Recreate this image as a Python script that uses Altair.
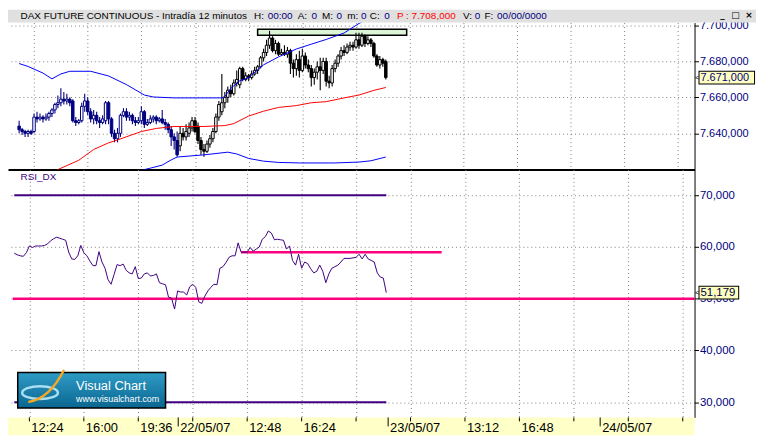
import altair as alt
import pandas as pd

# ---------------- data ----------------
opens = [7644, 7642, 7641, 7640, 7641, 7641, 7649, 7648, 7649, 7648, 7649, 7651, 7653, 7656, 7657, 7659,
         7658, 7659, 7658, 7647, 7646, 7647, 7655, 7658, 7652, 7648, 7650, 7647, 7646, 7647, 7657, 7648,
         7640, 7637, 7640, 7650, 7652, 7649, 7650, 7647, 7646, 7647, 7652, 7645, 7646, 7648, 7649, 7647,
         7648, 7646, 7645, 7642, 7638, 7636, 7633, 7640, 7638, 7640, 7643, 7647, 7644, 7636, 7631, 7630,
         7634, 7637, 7641, 7649, 7652, 7657, 7660, 7664, 7662, 7668, 7667, 7676, 7670, 7672, 7671, 7673,
         7675, 7677, 7682, 7685, 7689, 7693, 7686, 7690, 7684, 7685, 7684, 7686, 7679, 7676, 7681, 7675,
         7683, 7678, 7676, 7671, 7674, 7677, 7675, 7680, 7669, 7668, 7676, 7679, 7683, 7686, 7685, 7688,
         7689, 7688, 7692, 7689, 7694, 7690, 7692, 7690, 7683, 7678, 7681, 7680]
highs = [7647, 7643, 7642, 7642, 7642, 7651, 7652, 7651, 7650, 7651, 7652, 7654, 7657, 7661, 7665, 7663,
         7662, 7660, 7659, 7649, 7648, 7657, 7662, 7660, 7654, 7653, 7652, 7649, 7650, 7658, 7658, 7649,
         7642, 7643, 7651, 7654, 7654, 7652, 7651, 7649, 7649, 7655, 7653, 7648, 7650, 7650, 7650, 7649,
         7653, 7648, 7646, 7644, 7640, 7641, 7644, 7643, 7645, 7646, 7649, 7649, 7646, 7638, 7634, 7636,
         7639, 7643, 7651, 7658, 7673, 7663, 7666, 7667, 7670, 7675, 7677, 7677, 7674, 7673, 7675, 7677,
         7678, 7683, 7687, 7692, 7697, 7694, 7692, 7691, 7687, 7689, 7688, 7687, 7681, 7684, 7686, 7687,
         7685, 7681, 7678, 7676, 7680, 7682, 7682, 7682, 7672, 7678, 7681, 7684, 7688, 7689, 7690, 7691,
         7691, 7696, 7696, 7696, 7695, 7694, 7693, 7691, 7684, 7683, 7682, 7681]
lows = [7640, 7639, 7638, 7638, 7639, 7640, 7646, 7647, 7646, 7647, 7647, 7649, 7651, 7654, 7655, 7656,
        7656, 7655, 7646, 7644, 7645, 7646, 7652, 7650, 7646, 7645, 7645, 7643, 7645, 7645, 7645, 7638,
        7635, 7635, 7638, 7649, 7647, 7647, 7645, 7644, 7645, 7645, 7643, 7644, 7645, 7646, 7645, 7646,
        7645, 7642, 7640, 7633, 7631, 7627, 7630, 7636, 7636, 7638, 7641, 7640, 7634, 7628, 7627, 7629,
        7632, 7635, 7640, 7647, 7650, 7654, 7657, 7660, 7661, 7666, 7665, 7669, 7669, 7669, 7670, 7672,
        7673, 7676, 7680, 7683, 7687, 7685, 7684, 7683, 7683, 7683, 7682, 7673, 7671, 7672, 7671, 7674,
        7676, 7674, 7666, 7667, 7670, 7664, 7673, 7666, 7665, 7666, 7674, 7677, 7681, 7683, 7684, 7686,
        7686, 7687, 7687, 7688, 7688, 7689, 7688, 7682, 7677, 7676, 7677, 7670]
closes = [7642, 7641, 7640, 7641, 7640, 7649, 7648, 7649, 7648, 7649, 7651, 7653, 7656, 7657, 7659, 7658,
          7659, 7657, 7647, 7646, 7647, 7655, 7658, 7652, 7648, 7650, 7647, 7646, 7648, 7657, 7648, 7640,
          7637, 7640, 7650, 7652, 7649, 7650, 7647, 7646, 7647, 7652, 7645, 7646, 7648, 7649, 7647, 7648,
          7646, 7645, 7642, 7638, 7636, 7628, 7640, 7638, 7641, 7643, 7647, 7641, 7636, 7631, 7630, 7634,
          7637, 7641, 7649, 7656, 7657, 7660, 7664, 7662, 7668, 7670, 7676, 7670, 7672, 7671, 7673, 7675,
          7677, 7682, 7685, 7689, 7693, 7686, 7690, 7684, 7685, 7684, 7686, 7679, 7676, 7681, 7675, 7683,
          7678, 7676, 7671, 7674, 7677, 7675, 7680, 7669, 7668, 7676, 7679, 7683, 7686, 7685, 7688, 7689,
          7688, 7692, 7689, 7694, 7690, 7692, 7690, 7683, 7678, 7681, 7679, 7671]
session_break = 54          # first bar of 22/05/07 (candles turn black)

rsi = [58.8, 58.5, 58.3, 58.2, 58.9, 60.2, 59.9, 60.2, 60.2, 60.2, 60.3, 60.6, 61.2, 61.6, 61.9, 61.7,
       61.5, 61.3, 59.0, 57.7, 57.6, 58.3, 60.3, 58.9, 58.3, 57.3, 56.4, 56.4, 59.1, 57.1, 55.9, 53.7,
       52.8, 54.7, 56.6, 56.4, 56.7, 55.5, 55.0, 54.8, 56.2, 53.9, 54.0, 54.8, 55.0, 54.4, 54.5, 54.8,
       53.1, 52.9, 52.7, 50.3, 50.1, 48.0, 51.5, 51.3, 51.3, 50.7, 52.3, 52.8, 52.2, 49.4, 49.1, 50.5,
       51.5, 52.2, 52.8, 52.7, 55.9, 56.2, 57.0, 58.0, 58.3, 58.3, 60.8, 59.0, 59.0, 59.0, 59.9, 59.2,
       59.6, 60.0, 61.5, 62.0, 63.1, 62.7, 61.4, 61.5, 61.4, 61.3, 59.6, 60.2, 57.4, 56.5, 58.6, 55.9,
       57.1, 56.8, 55.8, 55.0, 55.3, 56.5, 55.3, 53.1, 54.8, 55.9, 56.2, 56.5, 57.1, 57.8, 57.8, 57.8,
       57.9, 58.0, 58.6, 57.7, 58.6, 57.7, 57.4, 57.1, 55.0, 54.2, 54.0, 51.179]

ma_idx = [10, 13, 20, 25, 30, 33, 41, 46, 52, 55, 62, 69, 72, 77, 82, 87, 93, 98, 103, 109, 114, 119, 123]
ma_val = [7617.8, 7619.8, 7625.0, 7631.0, 7634.7, 7636.3, 7641.0, 7642.7, 7643.8, 7643.8, 7643.8, 7644.3,
          7645.4, 7649.6, 7652.3, 7654.4, 7655.4, 7657.0, 7657.6, 7659.7, 7661.3, 7663.9, 7665.5]

bb_up_idx = [0, 3, 8, 11, 14, 17, 24, 30, 36, 42, 45, 52, 60, 68, 69, 71, 74, 77, 80, 82, 87, 93, 98,
             103, 109, 114, 118, 123]
bb_up_val = [7678.8, 7677.2, 7673.5, 7670.3, 7673.0, 7674.5, 7674.5, 7671.9, 7667.1, 7661.3, 7660.2,
             7659.7, 7659.7, 7659.7, 7660.5, 7665.0, 7669.2, 7671.0, 7675.4, 7678.1, 7682.5, 7686.9,
             7689.6, 7692.2, 7695.8, 7701.1, 7704.5, 7708.0]
bb_lo_idx = [40, 44, 48, 51, 53, 62, 70, 73, 77, 82, 87, 94, 106, 114, 118, 123]
bb_lo_val = [7619.0, 7620.6, 7622.3, 7625.2, 7626.8, 7628.0, 7629.5, 7628.5, 7626.0, 7624.5, 7623.8,
             7623.5, 7623.5, 7624.0, 7624.7, 7626.8]

box_i = [80]
box_i2 = [130]
box_p = [7694.5]
box_p2 = [7697.9]

price_ticks = [7640, 7660, 7680, 7700]
rsi_ticks = [30, 40, 50, 60, 70]
grid_pos = [5, 23, 41, 59, 77, 95, 113, 131, 149, 167, 185, 203, 221]
time_pos = [5, 23, 41, 77, 95, 149, 167]
time_txt = ["12:24", "16:00", "19:36", "12:48", "16:24", "13:12", "16:48"]
day_pos = [54.2, 123.6, 193.7]
day_txt = ["22/05/07", "23/05/07", "24/05/07"]

level_val = [70, 30]
level_i1 = [0, 0]
level_i2 = [123, 123]
pink_val = [50, 59]
pink_i1 = [-0.5, 75]
pink_i2 = [224.9, 141.3]

last_price = 7671.0
last_rsi = 51.179

header_txt = ["DAX FUTURE CONTINUOUS - Intradía 12 minutos", "H:", "00:00", "A:", "0", "M:", "0",
              "m:", "0", "C:", "0", "P : 7.708,000", "V:", "0", "F:", "00/00/0000"]
header_col = ["black", "black", "#000080", "black", "#000080", "black", "#000080", "black", "#000080",
              "black", "#000080", "#FF0000", "black", "#000080", "black", "#000080"]

# ---------------- layout ----------------
W, H1, H2, H3, HH = 692, 148, 250, 18, 13
FULLW = 754
header_x = [12.7, 248, 261.7, 292, 305.8, 316.5, 331, 342, 355.7, 364.6, 379.3, 392, 458.6, 470.4, 480.2, 493]

NAVY = "#000080"
PURPLE = "#400080"
PINK = "#FF0080"
FONT = "Liberation Sans"
X_DOM = [-2.07, 224.9]
P_DOM = [7619.9, 7701.6]
R_DOM = [27.05, 75.0]

xs = alt.Scale(domain=X_DOM, nice=False, zero=False)
ps = alt.Scale(domain=P_DOM, nice=False, zero=False)
rs = alt.Scale(domain=R_DOM, nice=False, zero=False)

ax_top = alt.Axis(values=grid_pos, grid=True, gridColor="#808080", gridDash=[1, 3], labels=False,
                  ticks=False, domain=True, domainColor="black", domainWidth=2, title=None)
ax_rsi_x = alt.Axis(values=grid_pos, grid=True, gridColor="#808080", gridDash=[1, 3], labels=False,
                    ticks=False, domain=False, title=None)
spanish = "replace(replace(replace(format(datum.value, ',.3f'), /,/g, '_'), /\\./g, ','), /_/g, '.')"
ax_p = alt.Axis(orient="right", values=price_ticks, labelExpr=spanish, labelColor=NAVY, labelFont=FONT,
                labelFontSize=11, tickColor="black", tickSize=4, domainColor="black", domainWidth=1,
                grid=True, gridColor="#808080", gridDash=[1, 3], title=None, labelPadding=1)
ax_r = alt.Axis(orient="right", values=rsi_ticks, labelExpr="replace(format(datum.value, '.3f'), '.', ',')",
                labelColor=NAVY, labelFont=FONT, labelFontSize=11.5, tickColor="black", tickSize=4,
                domainColor="black", domainWidth=1, grid=True, gridColor="#808080", gridDash=[1, 3],
                title=None, labelPadding=1)


def XT(f):
    return alt.X(f, type="quantitative", scale=xs, axis=ax_top)


def YP(f):
    return alt.Y(f, type="quantitative", scale=ps, axis=ax_p)


def XR(f):
    return alt.X(f, type="quantitative", scale=xs, axis=ax_rsi_x)


def YR(f):
    return alt.Y(f, type="quantitative", scale=rs, axis=ax_r)


def es(text):
    s = f"{text:,.3f}"
    return s.replace(",", "_").replace(".", ",").replace("_", ".")


one = pd.DataFrame({"k": [0]})

# ---------------- top panel ----------------
cdf = pd.DataFrame({"i": list(range(len(opens))), "o": opens, "h": highs, "l": lows, "c": closes})
cdf["col"] = [NAVY if i < session_break else "black" for i in cdf["i"]]
cdf["fill"] = ["white" if c >= o else col for o, c, col in zip(cdf["o"], cdf["c"], cdf["col"])]

box = alt.Chart(pd.DataFrame({"i": box_i, "i2": box_i2, "p": box_p, "p2": box_p2})).mark_rect(
    fill="#DCF5D6", stroke="black", strokeWidth=1.5).encode(x=XT("i"), x2="i2:Q", y=YP("p"), y2="p2:Q")

wicks = alt.Chart(cdf).mark_rule(strokeWidth=1.1).encode(
    x=XT("i"), y=YP("l"), y2="h:Q", color=alt.Color("col:N", scale=None))
bodies = alt.Chart(cdf).mark_bar(size=2.5, strokeWidth=1).encode(
    x=XT("i"), y=YP("o"), y2="c:Q", fill=alt.Fill("fill:N", scale=None),
    stroke=alt.Stroke("col:N", scale=None))

up = alt.Chart(pd.DataFrame({"i": bb_up_idx, "v": bb_up_val})).mark_line(
    color="#0000FF", strokeWidth=1, clip=True).encode(x=XT("i"), y=YP("v"))
lo = alt.Chart(pd.DataFrame({"i": bb_lo_idx, "v": bb_lo_val})).mark_line(
    color="#0000FF", strokeWidth=1, clip=True).encode(x=XT("i"), y=YP("v"))
ma = alt.Chart(pd.DataFrame({"i": ma_idx, "v": ma_val})).mark_line(
    color="#FF0000", strokeWidth=1, clip=True).encode(x=XT("i"), y=YP("v"))

pdf = pd.DataFrame({"v": [last_price], "t": [es(last_price)]})
p_border = alt.Chart(pdf).mark_rule(strokeWidth=14, color="black").encode(
    x=alt.value(W + 4), x2=alt.value(W + 61), y=YP("v"))
p_fill = alt.Chart(pdf).mark_rule(strokeWidth=12, color="#FFFFC0").encode(
    x=alt.value(W + 5), x2=alt.value(W + 60), y=YP("v"))
p_text = alt.Chart(pdf).mark_text(align="left", baseline="middle", font=FONT, fontSize=11,
                                  color=NAVY).encode(x=alt.value(W + 6), y=YP("v"), text="t:N")
p_arrow = alt.Chart(pdf).mark_text(align="left", baseline="middle", font=FONT, fontSize=8,
                                   color="black", text="<").encode(x=alt.value(W + 0.5), y=YP("v"))

head_rect = alt.Chart(one).mark_rect(color="#E0E0E0").encode(
    x=alt.value(0), x2=alt.value(FULLW), y=alt.value(-HH), y2=alt.value(0))
head_layers = [head_rect]
for t, c, hx in zip(header_txt, header_col, header_x):
    head_layers.append(alt.Chart(one).mark_text(align="left", baseline="middle", font=FONT,
                                                fontSize=10, color=c, text=t).encode(
        x=alt.value(hx), y=alt.value(-HH / 2)))
for t, hx in zip(["_", "□", "×"], [718, 729, 743]):
    head_layers.append(alt.Chart(one).mark_text(align="left", baseline="middle", font="DejaVu Sans",
                                                fontSize=9, fontWeight="bold", color="black",
                                                text=t).encode(x=alt.value(hx), y=alt.value(-HH / 2 - 1)))

top = alt.layer(box, wicks, bodies, up, lo, ma, p_border, p_fill, p_text, p_arrow,
                *head_layers).properties(width=W, height=H1)

# ---------------- RSI panel ----------------
lv = alt.Chart(pd.DataFrame({"v": level_val, "i1": level_i1, "i2": level_i2})).mark_rule(
    color=PURPLE, strokeWidth=2).encode(x=XR("i1"), x2="i2:Q", y=YR("v"))
pk = alt.Chart(pd.DataFrame({"v": pink_val, "i1": pink_i1, "i2": pink_i2})).mark_rule(
    color=PINK, strokeWidth=2.5).encode(x=XR("i1"), x2="i2:Q", y=YR("v"))
rline = alt.Chart(pd.DataFrame({"i": list(range(len(rsi))), "v": rsi})).mark_line(
    color=PURPLE, strokeWidth=1).encode(x=XR("i"), y=YR("v"))

rsi_lab = alt.Chart(one).mark_text(align="left", baseline="middle", font=FONT, fontSize=10,
                                   color=PURPLE, text="RSI_DX").encode(x=alt.value(12.7), y=alt.value(7.7))

logo_rect = alt.Chart(one).mark_rect(
    fill=alt.Gradient(gradient="linear", x1=0, x2=0, y1=0, y2=1,
                      stops=[alt.GradientStop(color="#2E9CC6", offset=0),
                             alt.GradientStop(color="#0A6690", offset=1)]),
    stroke="black", strokeWidth=1.5).encode(
    x=alt.value(9.8), x2=alt.value(158.8), y=alt.value(204.8), y2=alt.value(240.4))
logo_ell = alt.Chart(one).mark_point(
    shape="M-1,0A1,0.36 0 1,0 1,0A1,0.36 0 1,0 -1,0", size=1296, filled=False,
    stroke="#A8DDF2", strokeWidth=2.5, opacity=1).encode(x=alt.value(32.3), y=alt.value(225))
logo_sw = alt.Chart(one).mark_point(
    shape="M-1,0.8C-0.3,0.7 0.4,0.2 1,-1", size=1300, filled=False,
    stroke="#F6A821", strokeWidth=2.5, opacity=1).encode(x=alt.value(38.5), y=alt.value(220))
logo_t1 = alt.Chart(one).mark_text(align="left", baseline="middle", font=FONT, fontSize=13,
                                   color="white", text="Visual Chart").encode(
    x=alt.value(68.6), y=alt.value(218.3))
logo_t2 = alt.Chart(one).mark_text(align="left", baseline="middle", font=FONT, fontSize=9,
                                   color="white", text="www.visualchart.com").encode(
    x=alt.value(68.6), y=alt.value(231.7))

rdf = pd.DataFrame({"v": [last_rsi], "t": [f"{last_rsi:.3f}".replace(".", ",")]})
r_border = alt.Chart(rdf).mark_rule(strokeWidth=14, color="black").encode(
    x=alt.value(W + 4), x2=alt.value(W + 45), y=YR("v"))
r_fill = alt.Chart(rdf).mark_rule(strokeWidth=12, color="#FFFFC0").encode(
    x=alt.value(W + 5), x2=alt.value(W + 44), y=YR("v"))
r_text = alt.Chart(rdf).mark_text(align="left", baseline="middle", font=FONT, fontSize=11.5,
                                  color="#000040").encode(x=alt.value(W + 6), y=YR("v"), text="t:N")
r_arrow = alt.Chart(rdf).mark_text(align="left", baseline="middle", font=FONT, fontSize=8,
                                   color="black", text="<").encode(x=alt.value(W + 0.5), y=YR("v"))

rsi_panel = alt.layer(lv, pk, rline, logo_rect, logo_ell, logo_sw, logo_t1, logo_t2, rsi_lab,
                      r_border, r_fill, r_text, r_arrow).properties(width=W, height=H2)

# ---------------- time band ----------------
band_bg = alt.Chart(one).mark_rect(color="#FFFFC8").encode(
    x=alt.value(0), x2=alt.value(W), y=alt.value(0), y2=alt.value(H3))
band_ticks = alt.Chart(pd.DataFrame({"i": grid_pos})).mark_rule(color="black", strokeWidth=1).encode(
    x=alt.X("i:Q", scale=xs, axis=None), y=alt.value(0), y2=alt.value(4))
band_days = alt.Chart(pd.DataFrame({"i": day_pos})).mark_rule(color="black", strokeWidth=1).encode(
    x=alt.X("i:Q", scale=xs, axis=None), y=alt.value(0), y2=alt.value(9))
band_tl = alt.Chart(pd.DataFrame({"i": time_pos, "t": time_txt})).mark_text(
    align="left", baseline="middle", dx=2, font="Liberation Sans Narrow, Arial Narrow, Liberation Sans",
    fontSize=13, color="black").encode(x=alt.X("i:Q", scale=xs, axis=None), y=alt.value(10.5), text="t:N")
band_dl = alt.Chart(pd.DataFrame({"i": day_pos, "t": day_txt})).mark_text(
    align="left", baseline="middle", dx=2, font="Liberation Sans Narrow, Arial Narrow, Liberation Sans",
    fontSize=13, color="black").encode(x=alt.X("i:Q", scale=xs, axis=None), y=alt.value(10.5), text="t:N")
band = alt.layer(band_bg, band_ticks, band_days, band_tl, band_dl).properties(width=W, height=H3)

chart = alt.vconcat(top, rsi_panel, band, spacing=0, bounds="flush").properties(
    padding=0, background="white").configure_view(stroke=None)

chart.save("out.html", embed_options={"renderer": "svg", "actions": False})
